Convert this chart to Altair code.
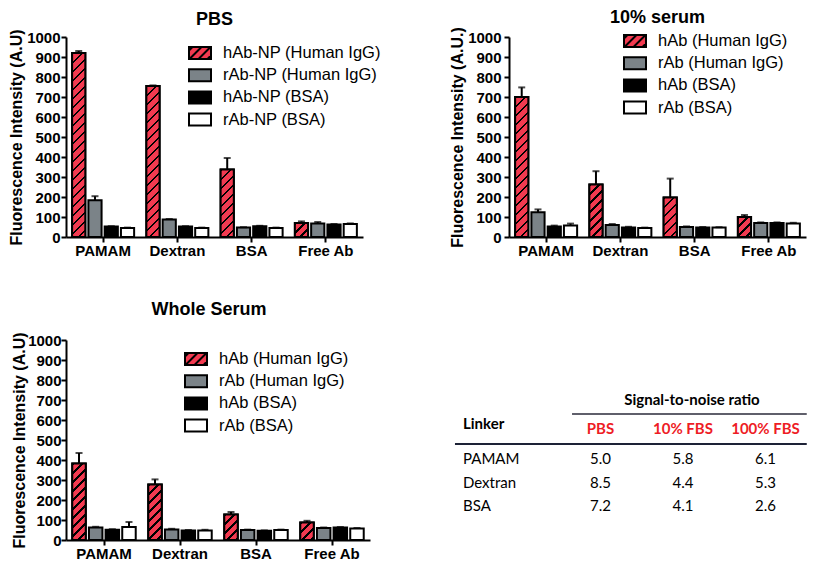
import altair as alt
import pandas as pd

# ---------------- data ----------------
categories = ["PAMAM", "Dextran", "BSA", "Free Ab"]

pbs_labels = ["hAb-NP (Human IgG)", "rAb-NP (Human IgG)", "hAb-NP (BSA)", "rAb-NP (BSA)"]
serum_labels = ["hAb (Human IgG)", "rAb (Human IgG)", "hAb (BSA)", "rAb (BSA)"]

# PBS
pbs_hab_igg = [920, 755, 337, 70]
pbs_hab_igg_err = [10, 3, 58, 8]
pbs_rab_igg = [184, 88, 47, 68]
pbs_rab_igg_err = [20, 2, 2, 7]
pbs_hab_bsa = [52, 52, 54, 63]
pbs_hab_bsa_err = [2, 2, 2, 2]
pbs_rab_bsa = [45, 45, 45, 65]
pbs_rab_bsa_err = [2, 2, 2, 3]

# 10% serum
s10_hab_igg = [700, 263, 197, 100]
s10_hab_igg_err = [48, 66, 95, 10]
s10_rab_igg = [124, 60, 50, 70]
s10_rab_igg_err = [14, 5, 3, 3]
s10_hab_bsa = [53, 48, 48, 70]
s10_hab_bsa_err = [4, 3, 2, 3]
s10_rab_bsa = [57, 45, 47, 68]
s10_rab_bsa_err = [10, 2, 2, 3]

# Whole serum
ws_hab_igg = [383, 278, 128, 88]
ws_hab_igg_err = [52, 25, 12, 8]
ws_rab_igg = [62, 53, 50, 60]
ws_rab_igg_err = [4, 3, 2, 2]
ws_hab_bsa = [51, 48, 46, 62]
ws_hab_bsa_err = [3, 2, 2, 3]
ws_rab_bsa = [65, 48, 50, 58]
ws_rab_bsa_err = [25, 3, 2, 2]

# Signal-to-noise table
linkers = ["PAMAM", "Dextran", "BSA"]
conditions = ["PBS", "10% FBS", "100% FBS"]
snr_pbs = [5.0, 8.5, 7.2]
snr_10 = [5.8, 4.4, 4.1]
snr_100 = [6.1, 5.3, 2.6]

# ---------------- styles ----------------
FONT = "Liberation Sans"
TFONT = "Lato"
RED = "#F23A50"
GRAY = "#7B8388"
BLACK = "#000000"
WHITE = "#FFFFFF"
HEAD_RED = "#EE1C25"

BAR_W = 13.3      # px width of one bar
PX_PER = 0.2      # px per data unit (200 px for 1000)
S_SPAN = 250.0    # px span of the stripe gradient (x+y)
PERIOD = 9.0      # px stripe period along x+y
LINE = 2.6        # px black stripe width along x+y


def hatch_expr():
    n = int(S_SPAN / PERIOD) + 1
    stops = []
    for k in range(n):
        a = k * PERIOD / S_SPAN
        b = (k * PERIOD + LINE) / S_SPAN
        c = (k + 1) * PERIOD / S_SPAN
        stops.append("{offset:%.5f,color:'%s'}" % (min(a, 1), BLACK))
        stops.append("{offset:%.5f,color:'%s'}" % (min(b, 1), BLACK))
        stops.append("{offset:%.5f,color:'%s'}" % (min(b, 1), RED))
        stops.append("{offset:%.5f,color:'%s'}" % (min(c, 1), RED))
    w2 = BAR_W * BAR_W
    h = "(datum.v*%s)" % PX_PER
    den = "(%s+%s*%s)" % (w2, h, h)
    return ("{gradient:'linear',x1:0,y1:0,x2:%s*%s/%s,y2:%s*%s/%s,stops:[%s]}"
            % (S_SPAN, BAR_W, den, S_SPAN, h, den, ",".join(stops)))


GRAD = hatch_expr()

# legend swatches (22 x 12 px at symbolSize 400)
RECT = "M-1.1,-0.6H1.1V0.6H-1.1Z"
HATCH_RECT = (RECT + " M-1.1,-0.25L-0.75,-0.6 M-1.05,0.6L0.15,-0.6"
              " M-0.15,0.6L1.05,-0.6 M0.75,0.6L1.1,0.25")


def make_df(labels, vals, errs):
    rows = []
    for si, (lab, vv, ee) in enumerate(zip(labels, vals, errs)):
        for c, v, e in zip(categories, vv, ee):
            rows.append({"cat": c, "series": lab, "v": v, "hi": v + e,
                         "hatch": 1 if si == 0 else 0})
    return pd.DataFrame(rows)


def panel(df, labels, x_range, ytitle, leg_x, leg_y, title_pad, label_pad):
    xs = alt.Scale(domain=categories, range=x_range, paddingInner=0.165, paddingOuter=0.0825)
    xo = alt.Scale(domain=labels, paddingInner=0.19, paddingOuter=0)
    ys = alt.Scale(domain=[0, 1000], nice=False)
    cs = alt.Scale(domain=labels, range=[RED, GRAY, BLACK, WHITE])
    ss = alt.Scale(domain=labels, range=[HATCH_RECT, RECT, RECT, RECT])
    ks = alt.Scale(domain=labels, range=[BLACK, BLACK, BLACK, BLACK])
    xax = alt.Axis(title=None, labelAngle=0, labelFont=FONT, labelFontSize=15,
                   labelFontWeight="bold", labelColor="black", domainColor="black",
                   domainWidth=2, tickColor="black", tickWidth=2, tickSize=5,
                   labelPadding=1, grid=False)
    yax = alt.Axis(title=ytitle, values=list(range(0, 1001, 100)), format="d", grid=False,
                   labelFont=FONT, labelFontSize=15, labelFontWeight="bold",
                   labelColor="black", domainColor="black", domainWidth=2,
                   tickColor="black", tickWidth=2, tickSize=5, labelPadding=label_pad,
                   titleFont=FONT, titleFontSize=16, titleFontWeight="bold",
                   titleColor="black", titlePadding=title_pad)
    leg = alt.Legend(title=None, orient="none", legendX=leg_x, legendY=leg_y,
                     symbolSize=400, symbolStrokeColor="black", symbolStrokeWidth=2,
                     symbolOpacity=1, labelFont=FONT, labelFontSize=16.5,
                     labelColor="black", labelOffset=12, rowPadding=1.2, padding=0)
    X = alt.X("cat:N", scale=xs, axis=xax, title=None)
    XO = alt.XOffset("series:N", scale=xo)
    Yv = alt.Y("v:Q", scale=ys, axis=yax)
    Yh = alt.Y("hi:Q", scale=ys, axis=yax)
    base = alt.Chart(df)
    bars = base.mark_bar(stroke="black", strokeWidth=2).encode(
        x=X, xOffset=XO, y=Yv, color=alt.Color("series:N", scale=cs, legend=leg))
    hatch = base.transform_filter("datum.hatch == 1").mark_bar(
        fill=alt.ExprRef(expr=GRAD), stroke="black", strokeWidth=2).encode(
        x=X, xOffset=XO, y=Yv)
    err = base.mark_rule(color="black", strokeWidth=2).encode(
        x=X, xOffset=XO, y=Yv, y2=alt.Y2("hi:Q"))
    cap = base.mark_tick(color="black", thickness=2, size=7).encode(
        x=X, xOffset=XO, y=Yh)
    legend = base.mark_point(filled=True, opacity=0, strokeWidth=2).encode(
        x=X, xOffset=XO, y=Yv,
        color=alt.Color("series:N", scale=cs, legend=leg),
        shape=alt.Shape("series:N", scale=ss, legend=leg),
        stroke=alt.Stroke("series:N", scale=ks, legend=leg))
    return alt.layer(bars, hatch, err, cap, legend)


def title(text, **kw):
    return alt.TitleParams(text=text, font=FONT, fontSize=18, fontWeight="bold",
                           color="black", frame="group", **kw)


df_pbs = make_df(pbs_labels,
                 [pbs_hab_igg, pbs_rab_igg, pbs_hab_bsa, pbs_rab_bsa],
                 [pbs_hab_igg_err, pbs_rab_igg_err, pbs_hab_bsa_err, pbs_rab_bsa_err])
df_s10 = make_df(serum_labels,
                 [s10_hab_igg, s10_rab_igg, s10_hab_bsa, s10_rab_bsa],
                 [s10_hab_igg_err, s10_rab_igg_err, s10_hab_bsa_err, s10_rab_bsa_err])
df_ws = make_df(serum_labels,
                [ws_hab_igg, ws_rab_igg, ws_hab_bsa, ws_rab_bsa],
                [ws_hab_igg_err, ws_rab_igg_err, ws_hab_bsa_err, ws_rab_bsa_err])

c1 = panel(df_pbs, pbs_labels, [0, 297], "Fluorescence Intensity (A.U)",
           123, 5, 2, 1).properties(width=297, height=200,
                                    title=title("PBS", anchor="middle", offset=0))
c2 = panel(df_s10, serum_labels, [0, 297], "Fluorescence Intensity (A.U.)",
           115, -7, 2, 3).properties(width=297, height=200,
                                     title=title("10% serum", anchor="middle", offset=0))

c3 = panel(df_ws, serum_labels, [0, 304], "Fluorescence Intensity (A.U)",
           119, 8, 0, 0)

# ---------------- table ----------------
P2L = 66  # page x of the whole-serum plot origin
STEP = 82.5
tx = alt.Scale(type="band", domain=["_"] + ["Linker"] + conditions,
               range=[476.75 - STEP - P2L, 806.75 - P2L], paddingInner=0, paddingOuter=0)
ty = alt.Scale(type="band", domain=["title", "header"] + linkers,
               range=[60.25, 177.75], paddingInner=0, paddingOuter=0)

cells = []
for ln, a, b, c in zip(linkers, snr_pbs, snr_10, snr_100):
    for cond, val in zip(conditions, [a, b, c]):
        cells.append({"row": ln, "col": cond, "val": val})
df_cells = pd.DataFrame(cells)
df_link = pd.DataFrame({"row": linkers, "col": ["Linker"] * len(linkers), "txt": linkers})
df_head = pd.DataFrame({"row": ["header"] * len(conditions), "col": conditions, "txt": conditions})
df_lhead = pd.DataFrame({"row": ["header"], "col": ["Linker"], "txt": ["Linker"]})
df_title = pd.DataFrame({"row": ["title"], "col": ["10% FBS"], "txt": ["Signal-to-noise ratio"]})
df_line1 = pd.DataFrame({"row": ["title"], "c1": ["PBS"], "c2": ["100% FBS"]})
df_line2 = pd.DataFrame({"row": ["header"], "c1": ["_"], "c2": ["100% FBS"]})

TX = alt.X("col:N", scale=tx, axis=None, bandPosition=0.5)
TXL = alt.X("col:N", scale=tx, axis=None, bandPosition=0)
TY = alt.Y("row:N", scale=ty, axis=None, bandPosition=0.5)

t_vals = alt.Chart(df_cells).mark_text(font=TFONT, fontSize=15, color="black").encode(
    x=TX, y=TY, text=alt.Text("val:Q", format=".1f"))
t_link = alt.Chart(df_link).mark_text(font=TFONT, fontSize=15, color="black",
                                      align="left", dx=-13.75).encode(
    x=TXL, y=TY, text="txt:N")
t_head = alt.Chart(df_head).mark_text(font=TFONT, fontSize=15, fontWeight="bold",
                                      color=HEAD_RED, dy=-6.5).encode(
    x=TX, y=TY, text="txt:N")
t_lhead = alt.Chart(df_lhead).mark_text(font=TFONT, fontSize=15, fontWeight="bold",
                                        color="black", align="left", dx=-13.75,
                                        dy=-11.5).encode(
    x=TXL, y=TY, text="txt:N")
t_title = alt.Chart(df_title).mark_text(font=TFONT, fontSize=15, fontWeight="bold",
                                        color="black", dx=9, dy=-12).encode(
    x=TX, y=TY, text="txt:N")
r1 = alt.Chart(df_line1).mark_rule(color="#2a2a3a", strokeWidth=1.3).encode(
    x=alt.X("c1:N", scale=tx, axis=None, bandPosition=0.155),
    x2=alt.X2("c2:N", bandPosition=1),
    y=alt.Y("row:N", scale=ty, axis=None, bandPosition=0.585))
r2 = alt.Chart(df_line2).mark_rule(color="#1d2236", strokeWidth=2.2).encode(
    x=alt.X("c1:N", scale=tx, axis=None, bandPosition=0.736),
    x2=alt.X2("c2:N", bandPosition=1),
    y=alt.Y("row:N", scale=ty, axis=None, bandPosition=0.862))

table = alt.layer(r1, r2, t_title, t_head, t_lhead, t_link, t_vals)

row2 = alt.layer(c3, table).resolve_scale(x="independent", y="independent").properties(
    width=740, height=200,
    title=title("Whole Serum", anchor="start", align="center", dx=143, offset=13))

IND = dict(color="independent", shape="independent", stroke="independent",
           xOffset="independent")
LIND = dict(color="independent", shape="independent", stroke="independent")

row1 = alt.hconcat(c1, c2, spacing=68).resolve_scale(**IND).resolve_legend(**LIND)

chart = alt.vconcat(row1, row2, spacing=42).resolve_scale(**IND).resolve_legend(
    **LIND).configure_view(stroke=None).properties(padding=0, background="white")

chart.save("out.html", embed_options={"renderer": "svg", "actions": False})
